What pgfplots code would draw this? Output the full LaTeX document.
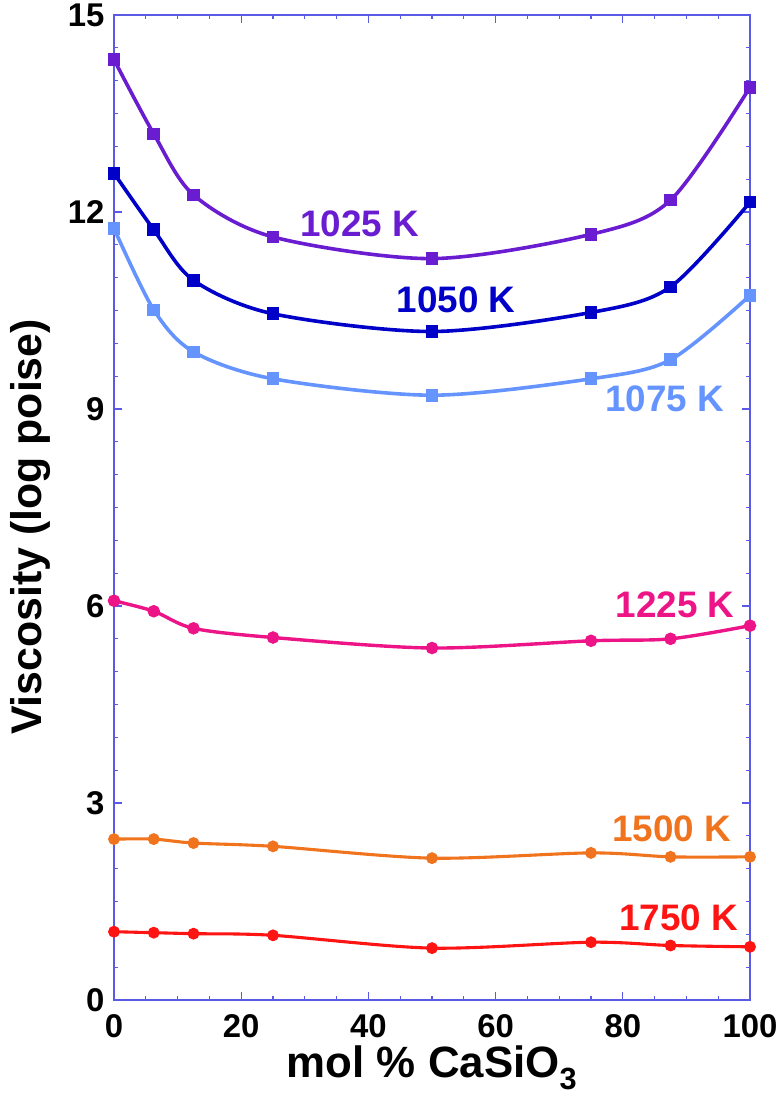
\documentclass[border=0pt]{standalone}
\usepackage{fontspec}
\setmainfont{Liberation Sans}
\usepackage{pgfplots}
\pgfplotsset{compat=1.18}
\definecolor{axisblue}{HTML}{5A5AE6}
\definecolor{c1025}{HTML}{6A1CD0}
\definecolor{c1050}{HTML}{0000C8}
\definecolor{c1075}{HTML}{6694FF}
\definecolor{c1225}{HTML}{EC1487}
\definecolor{c1500}{HTML}{F0731E}
\definecolor{c1750}{HTML}{FF1414}
\begin{document}
\begin{tikzpicture}
\begin{axis}[
 name=ax, scale only axis, width=636bp, height=985bp,
 xmin=0, xmax=100, ymin=0, ymax=15,
 xtick={0,20,...,100}, ytick={0,3,...,15},
 minor x tick num=3, minor y tick num=5,
 tick align=inside, major tick length=8bp, minor tick length=4bp,
 axis line style={draw=axisblue, line width=1.3bp},
 tick style={draw=axisblue, line width=1.2bp},
 ticklabel style={font=\fontsize{33}{33}\selectfont\bfseries},
 /pgf/number format/assume math mode=true,
 yticklabel style={xshift=-6bp},
 xticklabel style={yshift=-11bp},
 label style={font=\fontsize{43}{43}\selectfont\bfseries},
 xlabel={mol \% CaSiO\textsubscript{3}},
 ylabel={Viscosity (log poise)},
 xlabel style={at={(axis description cs:0.5,-0.0782)}, anchor=base, font=\fontsize{44}{44}\selectfont\bfseries},
 ylabel style={at={(axis description cs:-0.1132,0.4802)}, anchor=base},
 clip=false,
]
\addplot[c1025, line width=3.6bp, smooth, tension=0.5, mark=square*, mark size=4.5bp, mark options={solid}] coordinates {
 (0,14.32) (6.25,13.19) (12.5,12.26) (25,11.62) (50,11.29) (75,11.66) (87.5,12.18) (100,13.90)};
\addplot[c1050, line width=3.6bp, smooth, tension=0.5, mark=square*, mark size=4.5bp, mark options={solid}] coordinates {
 (0,12.59) (6.25,11.73) (12.5,10.96) (25,10.45) (50,10.18) (75,10.47) (87.5,10.86) (100,12.15)};
\addplot[c1075, line width=3.6bp, smooth, tension=0.5, mark=square*, mark size=4.5bp, mark options={solid}] coordinates {
 (0,11.75) (6.25,10.51) (12.5,9.87) (25,9.46) (50,9.21) (75,9.46) (87.5,9.75) (100,10.73)};
\addplot[c1225, line width=3.4bp, smooth, tension=0.5, mark=*, mark size=4.5bp, mark options={solid}] coordinates {
 (0,6.08) (6.25,5.92) (12.5,5.66) (25,5.52) (50,5.36) (75,5.47) (87.5,5.50) (100,5.70)};
\addplot[c1500, line width=3.1bp, smooth, tension=0.5, mark=*, mark size=4.3bp, mark options={solid}] coordinates {
 (0,2.45) (6.25,2.45) (12.5,2.39) (25,2.34) (50,2.16) (75,2.24) (87.5,2.18) (100,2.18)};
\addplot[c1750, line width=3.1bp, smooth, tension=0.5, mark=*, mark size=4.3bp, mark options={solid}] coordinates {
 (0,1.04) (6.25,1.025) (12.5,1.01) (25,0.985) (50,0.79) (75,0.88) (87.5,0.83) (100,0.81)};
\node[text=c1025, font=\fontsize{37}{37}\selectfont\bfseries] at (axis cs:38.6,11.82) {1025 K};
\node[text=c1050, font=\fontsize{37}{37}\selectfont\bfseries] at (axis cs:53.8,10.67) {1050 K};
\node[text=c1075, font=\fontsize{37}{37}\selectfont\bfseries] at (axis cs:86.6,9.16) {1075 K};
\node[text=c1225, font=\fontsize{37}{37}\selectfont\bfseries] at (axis cs:88.2,6.02) {1225 K};
\node[text=c1500, font=\fontsize{37}{37}\selectfont\bfseries] at (axis cs:87.7,2.61) {1500 K};
\node[text=c1750, font=\fontsize{37}{37}\selectfont\bfseries] at (axis cs:88.8,1.25) {1750 K};
\end{axis}
\pgfresetboundingbox
\path[use as bounding box] ([xshift=-114bp,yshift=-96bp]ax.south west) rectangle ([xshift=28bp,yshift=15bp]ax.north east);
\end{tikzpicture}
\end{document}
